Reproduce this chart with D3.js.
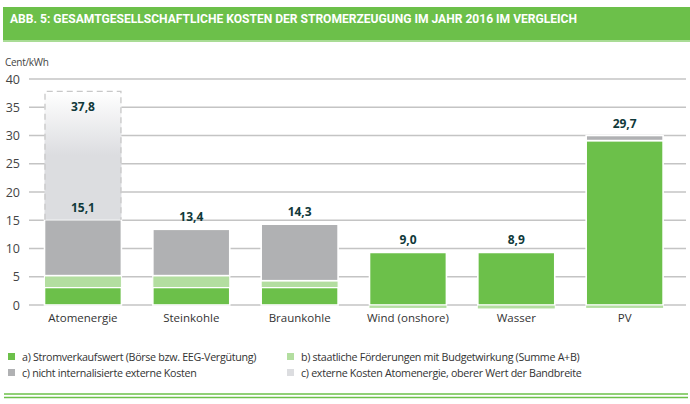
<!DOCTYPE html>
<html><head><meta charset="utf-8">
<script src="https://cdn.jsdelivr.net/npm/d3@7"></script>
<style>
html,body{margin:0;padding:0;background:#fff;}
svg{display:block;}
</style></head>
<body>
<svg id="chart" width="690" height="404"></svg>
<script>
// ---- data ----
const title = "ABB. 5: GESAMTGESELLSCHAFTLICHE KOSTEN DER STROMERZEUGUNG IM JAHR 2016 IM VERGLEICH";
const unitLabel = "Cent/kWh";
const categories = ["Atomenergie", "Steinkohle", "Braunkohle", "Wind (onshore)", "Wasser", "PV"];
const stromverkaufswert = [3.1, 3.1, 3.1, 9.3, 9.3, 29.1];     // a)
const foerderungen      = [2.1, 2.1, 1.2, -0.3, -0.4, -0.3];   // b)
const externeKosten     = [9.9, 8.2, 10.0, 0, 0, 0.9];         // c)
const externeAtomOben   = [22.7, 0, 0, 0, 0, 0];               // c) obere Bandbreite
const totalLabels       = [15.1, 13.4, 14.3, 9.0, 8.9, 29.7];
const upperLabels       = [37.8, null, null, null, null, null];
const yTicks = [0, 5, 10, 15, 20, 25, 30, 35, 40];
const seriesNames = [
  "a) Stromverkaufswert (Börse bzw. EEG-Vergütung)",
  "b) staatliche Förderungen mit Budgetwirkung (Summe A+B)",
  "c) nicht internalisierte externe Kosten",
  "c) externe Kosten Atomenergie, oberer Wert der Bandbreite"
];
const seriesKeys = ["a", "b", "c", "d"];
const colors = {a: "#6cc04a", b: "#b3dea0", c: "#b0b1b3", d: "url(#gradD)"};
const legendColors = {a: "#6cc04a", b: "#b3dea0", c: "#b0b1b3", d: "#dcdde0"};

// ---- build ----
const rows = categories.map((c, i) => ({
  cat: c, a: stromverkaufswert[i], b: foerderungen[i], c: externeKosten[i], d: externeAtomOben[i]
}));
const svg = d3.select("#chart");
const defs = svg.append("defs");
const g = defs.append("linearGradient").attr("id", "gradD")
  .attr("x1", 0).attr("y1", 0).attr("x2", 0).attr("y2", 1);
g.append("stop").attr("offset", "0%").attr("stop-color", "#ffffff");
g.append("stop").attr("offset", "50%").attr("stop-color", "#dcdde0");
g.append("stop").attr("offset", "100%").attr("stop-color", "#dcdde0");

const fontBody = "'Open Sans', 'Noto Sans', sans-serif";

// header band
svg.append("rect").attr("x", 3).attr("y", 7).attr("width", 687).attr("height", 35).attr("fill", "#6cc04a");
svg.append("rect").attr("x", 3).attr("y", 40).attr("width", 687).attr("height", 2).attr("fill", "#a9dc95");
svg.append("text").attr("x", 10).attr("y", 23)
  .attr("font-family", "'Liberation Sans Narrow', 'Roboto', sans-serif")
  .attr("font-weight", 700).attr("font-size", 13).attr("fill", "#fff")
  .attr("textLength", 567).attr("lengthAdjust", "spacingAndGlyphs")
  .text(title);

const y = d3.scaleLinear().domain([0, 40]).range([305, 79]);
const x = d3.scaleBand().domain(categories).range([28.8, 678.8]).paddingInner(0.29).paddingOuter(0.145);

// unit
svg.append("text").attr("x", 5).attr("y", 66).attr("font-family", fontBody)
  .attr("font-size", 10).attr("fill", "#444").attr("letter-spacing", -0.3).text(unitLabel);

// grid + axis
const axis = d3.axisLeft(y).tickValues(yTicks).tickSize(0).tickPadding(9).tickFormat(d3.format("d"));
const ax = svg.append("g").attr("transform", "translate(20,0)").call(axis);
ax.select(".domain").remove();
ax.selectAll("text").attr("x", 0).attr("font-family", fontBody).attr("font-size", 12.5).attr("fill", "#444");
svg.append("g").selectAll("line").data(yTicks).join("line")
  .attr("x1", 29).attr("x2", 686).attr("y1", d => y(d)).attr("y2", d => y(d))
  .attr("stroke", "#c4c4c4").attr("stroke-width", 1.5);

// stacked bars
const stack = d3.stack().keys(seriesKeys).offset(d3.stackOffsetDiverging);
const stacked = stack(rows);
const barG = svg.append("g");
stacked.forEach(s => {
  barG.append("g").selectAll("rect").data(s.filter(d => d[1] - d[0] !== 0)).join("rect")
    .attr("x", d => x(d.data.cat))
    .attr("width", x.bandwidth())
    .attr("y", d => y(Math.max(d[0], d[1])) + (d[1] < 0 || d[0] < 0 ? 0.6 : 0))
    .attr("height", d => Math.abs(y(d[0]) - y(d[1])) + (d[1] < 0 || d[0] < 0 ? 0.6 : 0))
    .attr("fill", colors[s.key])
    .attr("stroke", "#fff")
    .attr("stroke-width", d => (s.key === "d" || d[0] < 0 || d[1] < 0) ? 0 : (s.key === "b" ? 1 : 1.6));
});
// dashed border for the upper band
const dSeries = stacked.find(s => s.key === "d");
barG.append("g").selectAll("path").data(dSeries.filter(d => d[1] - d[0] > 0)).join("path")
  .attr("d", d => {
    const x0 = x(d.data.cat) + 0.5, x1 = x(d.data.cat) + x.bandwidth() - 0.5;
    const yt = y(d[1]), yb = y(d[0]);
    return `M${x0},${yb}V${yt}H${x1}V${yb}`;
  })
  .attr("fill", "none").attr("stroke", "#c8c8c8").attr("stroke-width", 1.3).attr("stroke-dasharray", "6,4");

// value labels
const fmt = d3.formatLocale({decimal: ",", thousands: ".", grouping: [3], currency: ["", "€"]}).format(".1f");
const topOf = i => {
  let t = 0;
  ["a", "b", "c"].forEach(k => { if (rows[i][k] > 0) t += rows[i][k]; });
  return t;
};
svg.append("g").selectAll("text").data(categories).join("text")
  .attr("x", d => x(d) + x.bandwidth() / 2)
  .attr("y", (d, i) => y(topOf(i)) - 8)
  .attr("text-anchor", "middle")
  .attr("font-family", fontBody).attr("font-weight", 700).attr("font-size", 12)
  .attr("fill", "#10393a")
  .text((d, i) => fmt(totalLabels[i]));
svg.append("g").selectAll("text").data(categories.filter((d, i) => upperLabels[i] != null)).join("text")
  .attr("x", d => x(d) + x.bandwidth() / 2)
  .attr("y", d => y(upperLabels[categories.indexOf(d)]) + 20)
  .attr("text-anchor", "middle")
  .attr("font-family", fontBody).attr("font-weight", 700).attr("font-size", 12)
  .attr("fill", "#10393a")
  .text(d => fmt(upperLabels[categories.indexOf(d)]));

// category labels
svg.append("g").selectAll("text").data(categories).join("text")
  .attr("x", d => x(d) + x.bandwidth() / 2).attr("y", 322)
  .attr("text-anchor", "middle").attr("font-family", fontBody).attr("font-size", 11.5)
  .attr("fill", "#333").text(d => d);

// legend
const legPos = [[8, 357], [287, 357], [8, 373], [287, 373]];
const leg = svg.append("g").selectAll("g").data(seriesKeys).join("g")
  .attr("transform", (d, i) => `translate(${legPos[i][0]},${legPos[i][1]})`);
leg.append("rect").attr("x", 0).attr("y", -4).attr("width", 7).attr("height", 7)
  .attr("fill", d => legendColors[d]);
leg.append("text").attr("x", 14).attr("y", 4).attr("font-family", fontBody).attr("font-size", 10.7)
  .attr("fill", "#333").attr("letter-spacing", -0.3).text((d, i) => seriesNames[i]);

// bottom double rule
[394, 397.5].forEach(yy => {
  svg.append("line").attr("x1", 4).attr("x2", 688).attr("y1", yy).attr("y2", yy)
    .attr("stroke", "#6cc04a").attr("stroke-width", 1.6);
});
</script>
</body></html>
